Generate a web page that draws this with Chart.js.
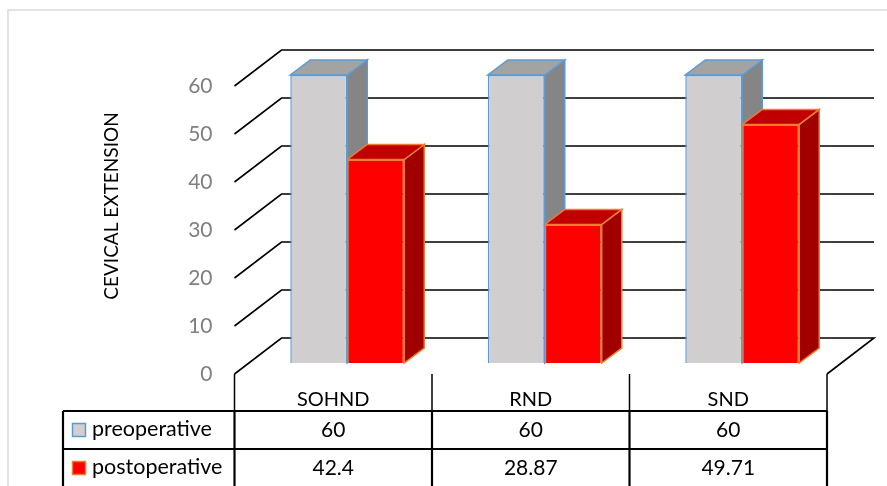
<!DOCTYPE html>
<html><head><meta charset="utf-8">
<script src="https://cdn.jsdelivr.net/npm/chart.js@4/dist/chart.umd.min.js"></script>
<style>html,body{margin:0;padding:0;background:#fff}canvas{display:block}</style>
</head><body>
<canvas id="c" width="887" height="486"></canvas>
<script>
const categories = ['SOHND', 'RND', 'SND'];
const seriesNames = ['preoperative', 'postoperative'];
const preoperative = [60, 60, 60];
const postoperative = [42.4, 28.87, 49.71];
const yTickValues = [0, 10, 20, 30, 40, 50, 60];
const axisTitle = 'CEVICAL EXTENSION';

const FONT = 'Lato, "Open Sans", sans-serif';
const FRONT = {dx: -14, dy: 11};   // front floor edge relative to bar plane
const BACK = {dx: 33, dy: -25};    // back wall relative to bar plane
const SIDE = {dx: 20, dy: -15};    // bar depth
const styles = [
  {front: '#D0CECE', top: '#A3A3A3', side: '#858585', border: '#5B9BD5'},
  {front: '#FF0000', top: '#C00000', side: '#A00000', border: '#ED7D31'}
];

function poly(ctx, pts, fill, stroke) {
  ctx.beginPath();
  ctx.moveTo(pts[0][0], pts[0][1]);
  for (let i = 1; i < pts.length; i++) ctx.lineTo(pts[i][0], pts[i][1]);
  ctx.closePath();
  ctx.fillStyle = fill; ctx.fill();
  ctx.lineWidth = 1.5; ctx.strokeStyle = stroke; ctx.lineJoin = 'miter'; ctx.stroke();
}

function drawFaces(chart, index) {
  const ctx = chart.ctx, st = styles[index];
  const meta = chart.getDatasetMeta(index);
  ctx.save();
  meta.data.forEach(bar => {
    const {x, y, base, width} = bar.getProps(['x', 'y', 'base', 'width'], true);
    const l = x - width / 2, r = x + width / 2;
    poly(ctx, [[r, y], [r + SIDE.dx, y + SIDE.dy], [r + SIDE.dx, base + SIDE.dy], [r, base]], st.side, st.border);
    poly(ctx, [[l, y], [r, y], [r + SIDE.dx, y + SIDE.dy], [l + SIDE.dx, y + SIDE.dy]], st.top, st.border);
  });
  ctx.restore();
}

const threeD = {
  id: 'threeD',
  beforeDatasetsDraw(chart) {
    const ctx = chart.ctx, ys = chart.scales.y, a = chart.chartArea;
    ctx.save();
    ctx.strokeStyle = '#000'; ctx.lineWidth = 1.6; ctx.lineCap = 'butt';
    const fl = a.left + FRONT.dx, fr = a.right + FRONT.dx;
    const bl = a.left + BACK.dx, br = a.right + BACK.dx;
    yTickValues.forEach(v => {
      const p = ys.getPixelForValue(v);
      ctx.beginPath();
      ctx.moveTo(fl, p + FRONT.dy);
      ctx.lineTo(bl, p + BACK.dy);
      ctx.lineTo(br, p + BACK.dy);
      if (v === 0) ctx.lineTo(fr, p + FRONT.dy);
      ctx.stroke();
    });
    ctx.restore();
    // faces of the first series go behind everything of the second
    drawFaces(chart, 0);
  },
  beforeDatasetDraw(chart, args) {
    if (args.index === 1) drawFaces(chart, 1);
  },
  afterDraw(chart) {
    const ctx = chart.ctx, xs = chart.scales.x, ys = chart.scales.y, a = chart.chartArea;
    ctx.save();
    // outer frame
    ctx.strokeStyle = '#D9D9D9'; ctx.lineWidth = 1.5;
    ctx.strokeRect(8, 10, 1000, 1000);
    // axis title
    ctx.translate(112, 206); ctx.rotate(-Math.PI / 2);
    ctx.fillStyle = '#000'; ctx.font = '19px ' + FONT;
    ctx.textAlign = 'center'; ctx.textBaseline = 'middle';
    ctx.fillText(axisTitle, 0, 0);
    ctx.setTransform(1, 0, 0, 1, 0, 0);
    // data table
    const n = categories.length;
    const colW = (a.right - a.left) / n;
    const top = ys.getPixelForValue(0) + FRONT.dy;
    const r1 = top + 37, r2 = r1 + 38, bottom = 500;
    const tableLeft = 63;
    const edges = [];
    for (let i = 0; i < n; i++) edges.push(xs.getPixelForValue(i) - colW / 2 + FRONT.dx);
    edges.push(xs.getPixelForValue(n - 1) + colW / 2 + FRONT.dx);
    ctx.strokeStyle = '#000';
    ctx.lineWidth = 1.5;
    edges.forEach(ex => { ctx.beginPath(); ctx.moveTo(ex, top); ctx.lineTo(ex, r1); ctx.stroke(); });
    ctx.lineWidth = 2.2;
    edges.forEach(ex => { ctx.beginPath(); ctx.moveTo(ex, r1); ctx.lineTo(ex, bottom); ctx.stroke(); });
    ctx.beginPath(); ctx.moveTo(tableLeft, r1); ctx.lineTo(tableLeft, bottom); ctx.stroke();
    [r1, r2].forEach(ry => { ctx.beginPath(); ctx.moveTo(tableLeft, ry); ctx.lineTo(edges[n], ry); ctx.stroke(); });
    ctx.fillStyle = '#000';
    ctx.textAlign = 'center'; ctx.textBaseline = 'alphabetic';
    const series = [preoperative, postoperative];
    const rowBase = [r1 + 26, r2 + 26];
    for (let i = 0; i < n; i++) {
      const cx = (edges[i] + edges[i + 1]) / 2;
      ctx.font = '20px ' + FONT;
      ctx.fillText(categories[i], cx, top + 32);
      ctx.font = '21px ' + FONT;
      series.forEach((s, k) => ctx.fillText(String(s[i]), cx, rowBase[k]));
    }
    // legend keys
    ctx.textAlign = 'left';
    ctx.font = '21.5px ' + FONT;
    seriesNames.forEach((name, k) => {
      const b = rowBase[k];
      ctx.fillStyle = styles[k].front;
      ctx.fillRect(72.5, b - 13.5, 13, 13);
      ctx.strokeStyle = styles[k].border; ctx.lineWidth = 1.5;
      ctx.strokeRect(72.5, b - 13.5, 13, 13);
      ctx.fillStyle = '#000';
      ctx.fillText(name, 92, b - 1);
    });
    ctx.restore();
  }
};

new Chart(document.getElementById('c'), {
  type: 'bar',
  data: {
    labels: categories,
    datasets: [
      {label: seriesNames[0], data: preoperative, clip: false,
       backgroundColor: styles[0].front, borderColor: styles[0].border, borderWidth: 1.5},
      {label: seriesNames[1], data: postoperative, clip: false,
       backgroundColor: styles[1].front, borderColor: styles[1].border, borderWidth: 1.5}
    ]
  },
  options: {
    responsive: false,
    animation: false,
    layout: {padding: {left: 0, top: 75, right: 46, bottom: 123}},
    datasets: {bar: {barPercentage: 1, categoryPercentage: 0.577}},
    plugins: {legend: {display: false}, tooltip: {enabled: false}},
    scales: {
      x: {display: false},
      y: {
        min: 0, max: 60,
        afterFit: s => { s.width = 248.5; },
        grid: {display: false, drawTicks: false},
        border: {display: false},
        ticks: {stepSize: 10, autoSkip: false, padding: 36, labelOffset: 11,
                color: '#7F7F7F', font: {family: FONT, size: 21}}
      }
    }
  },
  plugins: [threeD]
});
</script>
</body></html>
